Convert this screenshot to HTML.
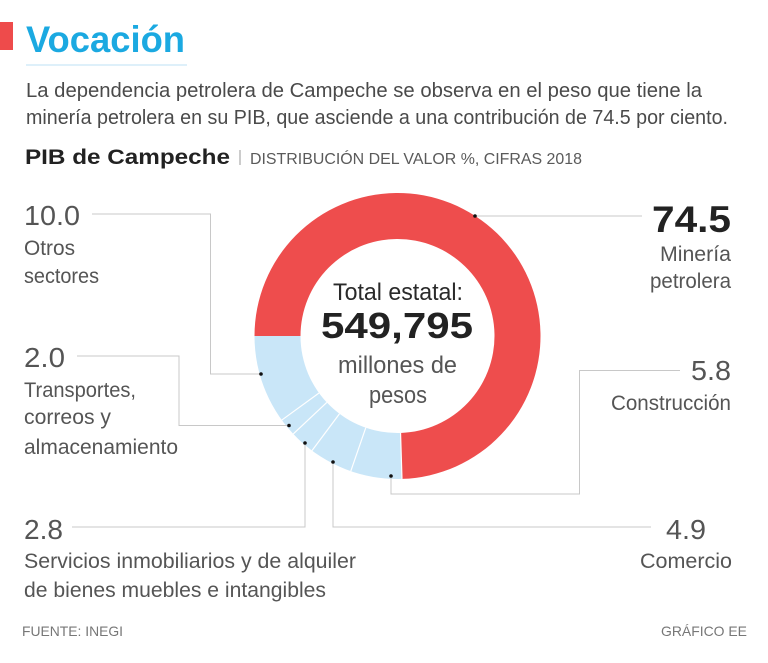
<!DOCTYPE html>
<html>
<head>
<meta charset="utf-8">
<style>
  html, body { margin: 0; padding: 0; background: #ffffff; }
  svg { display: block; }
  text { font-family: "Liberation Sans", "DejaVu Sans", sans-serif; }
</style>
</head>
<body>
<svg width="768" height="663" viewBox="0 0 768 663" xmlns="http://www.w3.org/2000/svg">
  <rect width="768" height="663" fill="#ffffff"/>

  <!-- Title -->
  <rect x="0" y="22" width="13" height="28" fill="#ee4b4b"/>
  <text x="26" y="52" font-size="37" font-weight="bold" fill="#1ba9e1" textLength="159" lengthAdjust="spacingAndGlyphs">Vocación</text>
  <line x1="26" y1="65" x2="187" y2="65" stroke="#d3ebf8" stroke-width="1.5"/>

  <!-- Paragraph -->
  <text x="26" y="97" font-size="20" fill="#4a4a4a" textLength="676" lengthAdjust="spacingAndGlyphs">La dependencia petrolera de Campeche se observa en el peso que tiene la</text>
  <text x="26" y="124" font-size="20" fill="#4a4a4a" textLength="702" lengthAdjust="spacingAndGlyphs">minería petrolera en su PIB, que asciende a una contribución de 74.5 por ciento.</text>

  <!-- Header -->
  <text x="25" y="164" font-size="21" font-weight="bold" fill="#222222" textLength="205" lengthAdjust="spacingAndGlyphs">PIB de Campeche</text>
  <line x1="240" y1="150" x2="240" y2="165" stroke="#999999" stroke-width="1"/>
  <text x="250" y="164" font-size="16" fill="#5a5a5a" textLength="332" lengthAdjust="spacingAndGlyphs">DISTRIBUCIÓN DEL VALOR %, CIFRAS 2018</text>

  <!-- Donut -->
  <path d="M 254.5 336 A 143 143 0 1 1 401.99 478.93 L 400.55 432.95 A 97 97 0 1 0 300.5 336 Z" fill="#ee4d4d"/>
  <path d="M 401.99 478.93 A 143 143 0 0 1 254.5 336 L 300.5 336 A 97 97 0 0 0 400.55 432.95 Z" fill="#c9e6f8"/>
  <g stroke="#ffffff" stroke-width="1.2">
    <line x1="401.99" y1="478.93" x2="400.55" y2="432.95"/>
    <line x1="350.76" y1="471.14" x2="365.79" y2="427.67"/>
    <line x1="312.0" y1="450.62" x2="339.5" y2="413.75"/>
    <line x1="293.26" y1="433.89" x2="326.79" y2="402.40"/>
    <line x1="281.81" y1="420.05" x2="319.03" y2="393.02"/>
  </g>

  <!-- Leader lines -->
  <g fill="none" stroke="#c8c8c8" stroke-width="1">
    <polyline points="92,214 210.5,214 210.5,374 261,374"/>
    <polyline points="77,356 179,356 179,425.5 289,425.5"/>
    <polyline points="305,443 305,527 72,527"/>
    <polyline points="333,462 333,527 651,527"/>
    <polyline points="391,476 391,494 579.5,494 579.5,370.5 680,370.5"/>
    <polyline points="475,216 642,216"/>
  </g>
  <g fill="#111111">
    <circle cx="261" cy="374" r="1.8"/>
    <circle cx="289" cy="425.5" r="1.8"/>
    <circle cx="305" cy="443" r="1.8"/>
    <circle cx="333" cy="462" r="1.8"/>
    <circle cx="391" cy="476" r="1.8"/>
    <circle cx="475" cy="216" r="1.8"/>
  </g>

  <!-- Center text -->
  <text x="333" y="300" font-size="24" fill="#2a2a2a" textLength="130" lengthAdjust="spacingAndGlyphs">Total estatal:</text>
  <text x="321" y="338" font-size="36" font-weight="bold" fill="#222222" textLength="152" lengthAdjust="spacingAndGlyphs">549,795</text>
  <text x="338" y="373" font-size="24" fill="#555555" textLength="119" lengthAdjust="spacingAndGlyphs">millones de</text>
  <text x="369" y="403" font-size="24" fill="#555555" textLength="58" lengthAdjust="spacingAndGlyphs">pesos</text>

  <!-- Left labels -->
  <g fill="#555555">
    <text x="24" y="225" font-size="28" textLength="56" lengthAdjust="spacingAndGlyphs">10.0</text>
    <text x="24" y="255" font-size="21" textLength="51" lengthAdjust="spacingAndGlyphs">Otros</text>
    <text x="24" y="283" font-size="21" textLength="75" lengthAdjust="spacingAndGlyphs">sectores</text>

    <text x="24" y="367" font-size="28" textLength="41" lengthAdjust="spacingAndGlyphs">2.0</text>
    <text x="24" y="397" font-size="21" textLength="112" lengthAdjust="spacingAndGlyphs">Transportes,</text>
    <text x="24" y="424" font-size="21" textLength="87" lengthAdjust="spacingAndGlyphs">correos y</text>
    <text x="24" y="454" font-size="21" textLength="154" lengthAdjust="spacingAndGlyphs">almacenamiento</text>

    <text x="24" y="539" font-size="28" textLength="39" lengthAdjust="spacingAndGlyphs">2.8</text>
    <text x="24" y="568" font-size="21" textLength="332" lengthAdjust="spacingAndGlyphs">Servicios inmobiliarios y de alquiler</text>
    <text x="24" y="597" font-size="21" textLength="302" lengthAdjust="spacingAndGlyphs">de bienes muebles e intangibles</text>
  </g>

  <!-- Right labels -->
  <text x="652" y="232" font-size="37" font-weight="bold" fill="#222222" textLength="79" lengthAdjust="spacingAndGlyphs">74.5</text>
  <g fill="#555555">
    <text x="660" y="261" font-size="21" textLength="71" lengthAdjust="spacingAndGlyphs">Minería</text>
    <text x="650" y="288" font-size="21" textLength="81" lengthAdjust="spacingAndGlyphs">petrolera</text>

    <text x="691" y="380" font-size="28" textLength="40" lengthAdjust="spacingAndGlyphs">5.8</text>
    <text x="611" y="410" font-size="21" textLength="120" lengthAdjust="spacingAndGlyphs">Construcción</text>

    <text x="666" y="539" font-size="28" textLength="40" lengthAdjust="spacingAndGlyphs">4.9</text>
    <text x="640" y="568" font-size="21" textLength="92" lengthAdjust="spacingAndGlyphs">Comercio</text>
  </g>

  <!-- Footer -->
  <text x="22" y="636" font-size="14" fill="#777777" textLength="101" lengthAdjust="spacingAndGlyphs">FUENTE: INEGI</text>
  <text x="661" y="636" font-size="14" fill="#777777" textLength="86" lengthAdjust="spacingAndGlyphs">GRÁFICO EE</text>
</svg>
</body>
</html>
